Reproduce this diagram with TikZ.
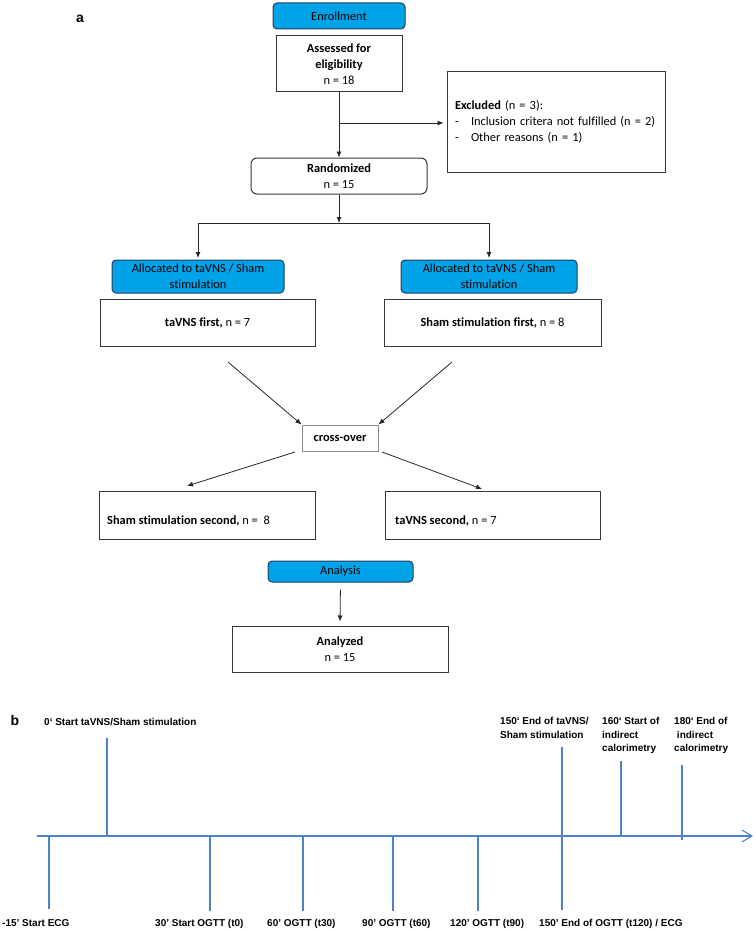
\documentclass[tikz,border=0pt]{standalone}
\usepackage{fontspec}
\setmainfont{Carlito}[Ligatures={NoCommon}]
\newfontfamily\arialfont{Liberation Sans}
\usetikzlibrary{arrows.meta}
\definecolor{bluefill}{RGB}{0,162,232}
\definecolor{blueline}{RGB}{40,62,92}
\definecolor{tlblue}{RGB}{79,129,199}
\definecolor{boxline}{RGB}{55,55,55}
\newcommand{\flowfont}{\fontsize{12.4}{16}\selectfont}
\newcommand{\tlfont}{\arialfont\bfseries\fontsize{10}{13.5}\selectfont}
\tikzset{
  fbox/.style={draw=boxline, line width=1pt, fill=white, inner sep=2pt, align=center, font=\flowfont},
  bluebox/.style={fbox, fill=bluefill, draw=blueline, rounded corners=4pt},
  rbox/.style={fbox, rounded corners=6pt},
  arr/.style={draw=black!85, line width=0.8pt, -{Latex[length=6pt,width=5pt]}},
  ln/.style={draw=black!85, line width=0.8pt},
  tl/.style={draw=tlblue, line width=1.1pt},
  tlab/.style={font=\tlfont, inner sep=0pt, align=left},
  panel/.style={font=\arialfont\bfseries\fontsize{14}{14}\selectfont, inner sep=0pt}
}
\begin{document}
\begin{tikzpicture}[x=1pt,y=-1pt]
\useasboundingbox (0,0) rectangle (755,931);
% panel labels
\node[panel] (pa) at (80,19) {a};
\node[panel] (pb) at (15,720) {b};
% flow chart
\node[bluebox, minimum width=132pt, minimum height=26pt] (enr) at (339,16) {Enrollment};
\node[fbox, minimum width=126pt, minimum height=56pt] (ass) at (339,64) {\textbf{Assessed for}\\\textbf{eligibility}\\n = 18};
\node[fbox, minimum width=218pt, minimum height=100pt, text width=202pt, align=left, inner xsep=8pt] (exc) at (556,122)
  {\textbf{Excluded} (n = 3):\\\makebox[16pt][l]{-}Inclusion critera not fulfilled (n = 2)\\\makebox[16pt][l]{-}Other reasons (n = 1)};
\node[rbox, minimum width=176pt, minimum height=36pt] (ran) at (339,176) {\textbf{Randomized}\\n = 15};
\coordinate (jx) at (339,123);
\coordinate (jm) at (339,223);
\coordinate (jl) at (198,223);
\coordinate (jr) at (489,223);
\node[bluebox, minimum width=172pt, minimum height=33pt] (al1) at (198,276.5) {Allocated to taVNS / Sham\\stimulation};
\node[bluebox, minimum width=176pt, minimum height=33pt] (al2) at (489,276.5) {Allocated to taVNS / Sham\\stimulation};
\node[fbox, minimum width=215pt, minimum height=47pt] (w1) at (207.5,322.5) {\textbf{taVNS first,} n = 7};
\node[fbox, minimum width=217pt, minimum height=47pt] (w2) at (492.5,322.5) {\textbf{Sham stimulation first,} n = 8};
\node[fbox, draw=black!45, minimum width=76pt, minimum height=26pt] (cro) at (340,438) {\textbf{cross-over}};
\coordinate (c1) at (228,362);
\coordinate (c2) at (452,362);
\coordinate (c3) at (295,452);
\coordinate (c4) at (382,452);
\coordinate (c5) at (187,486);
\coordinate (c6) at (482,489);
\node[fbox, minimum width=216pt, minimum height=48pt] (s1) at (207,515) {};
\node[fbox, minimum width=215pt, minimum height=48pt] (s2) at (492.5,515) {};
\node[font=\flowfont, anchor=west, inner sep=0pt] (s1t) at (107,521) {\textbf{Sham stimulation second,} n =\ \ 8};
\node[font=\flowfont, anchor=west, inner sep=0pt] (s2t) at (395,521) {\textbf{taVNS second,} n = 7};
\node[bluebox, minimum width=145pt, minimum height=21pt] (ana) at (340.5,571.5) {Analysis};
\node[fbox, minimum width=216pt, minimum height=46pt] (anz) at (340,649) {\textbf{Analyzed}\\n = 15};
% connectors
\draw[arr] (ass.south) -- (ran.north);
\draw[arr, shorten >=3pt] (jx) -- (exc.west |- jx);
\draw[arr] (ran.south) -- (jm);
\draw[ln] (jl) -- (jr);
\draw[arr, shorten >=1.5pt] (jl) -- (al1.north -| jl);
\draw[arr, shorten >=1.5pt] (jr) -- (al2.north -| jr);
\draw[arr] (c1) -- (cro.north west);
\draw[arr] (c2) -- (cro.north east);
\draw[arr] (c3) -- (c5);
\draw[arr] (c4) -- (c6);
\draw[arr, shorten <=7pt, shorten >=4pt] (ana.south) -- (anz.north);
% timeline
\coordinate (ax0) at (37,836);
\coordinate (ax1) at (753,836);
\draw[tl, -{Straight Barb[length=10pt,width=12pt]}] (ax0) -- (ax1);
\draw[tl] (49,836) -- (49,909);
\draw[tl] (107,738) -- (107,836);
\draw[tl] (210,836) -- (210,911);
\draw[tl] (303,836) -- (303,911);
\draw[tl] (393,836) -- (393,911);
\draw[tl] (478,836) -- (478,911);
\draw[tl] (562,747) -- (562,910);
\draw[tl] (621,761) -- (621,836);
\draw[tl] (682,765) -- (682,840);
% timeline labels
\node[tlab, anchor=base west] (t0) at (44,725) {0‘ Start taVNS/Sham stimulation};
\node[tlab, anchor=north west] (t150a) at (500,717.5) {150‘ End of taVNS/\\ Sham stimulation};
\node[tlab, anchor=north west] (t160) at (602,717.5) {160‘ Start of\\ indirect\\ calorimetry};
\node[tlab, anchor=north west] (t180) at (674,717.5) {180‘ End of\\ \ indirect\\ calorimetry};
\node[tlab, anchor=base west] (tm15) at (2,926) {-15’ Start ECG};
\node[tlab, anchor=base west] (t30) at (155,926) {30’ Start OGTT (t0)};
\node[tlab, anchor=base west] (t60) at (267,926) {60’ OGTT (t30)};
\node[tlab, anchor=base west] (t90) at (362,926) {90’ OGTT (t60)};
\node[tlab, anchor=base west] (t120) at (450,926) {120’ OGTT (t90)};
\node[tlab, anchor=base west] (t150b) at (539,926) {150’ End of OGTT (t120) / ECG};
\end{tikzpicture}
\end{document}
